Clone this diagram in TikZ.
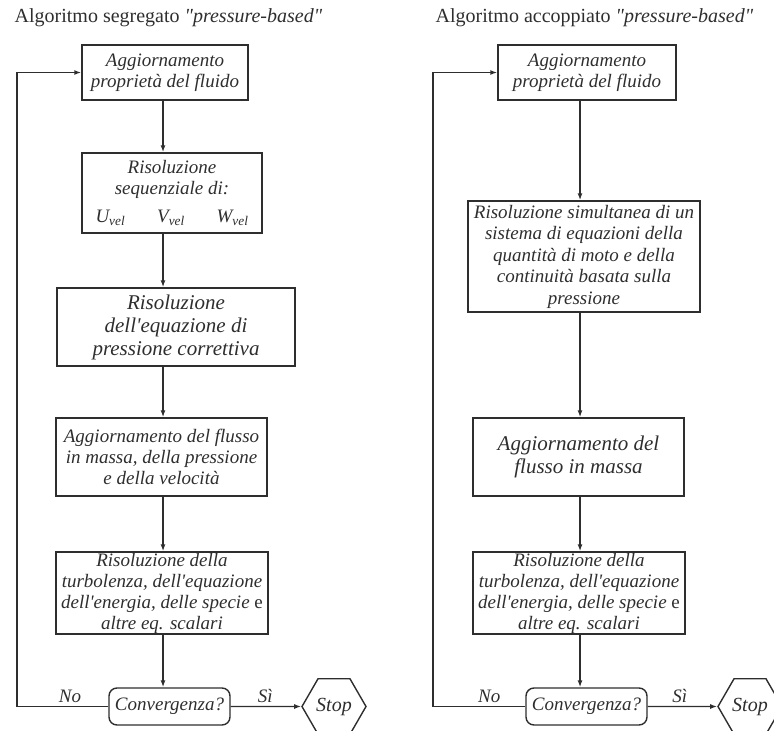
\documentclass[tikz,border=0pt]{standalone}
\usepackage{fontspec}
\setmainfont{Liberation Serif}
\usetikzlibrary{shapes.geometric,arrows.meta}
\definecolor{ink}{HTML}{2E2E2E}

\begin{document}
\begin{tikzpicture}[x=1pt, y=1pt, >={Latex[length=7pt,width=5pt]}, line width=1.4pt, color=ink]
  \tikzstyle{box} = [rectangle, draw, align=center, inner sep=0pt, font=\fontsize{19pt}{21pt}\selectfont\itshape]
  \tikzstyle{bigbox} = [box, font=\fontsize{21pt}{23pt}\selectfont\itshape]
  \tikzstyle{test} = [box, rounded corners=8pt, minimum width=121pt, minimum height=37pt]
  \tikzstyle{halt} = [regular polygon, regular polygon sides=6, draw, minimum size=64pt, inner sep=0pt, font=\fontsize{20pt}{22pt}\selectfont\itshape]
  \tikzstyle{tag} = [font=\fontsize{19pt}{21pt}\selectfont\itshape]
  \tikzstyle{heading} = [anchor=west, inner sep=0pt, font=\fontsize{20pt}{22pt}\selectfont]

  \useasboundingbox (0,0) rectangle (774,-731);

  % segregato
  \node [heading] (ltitle) at (14,-18) {Algoritmo segregato \textit{\textquotedbl pressure-based\textquotedbl}};
  \node [box, minimum width=166pt, minimum height=55pt] (l1) at (165,-72.5) {Aggiornamento\\propriet\`a del fluido};
  \node [box, below of=l1, node distance=120.5pt, xshift=7pt, minimum width=180pt, minimum height=80pt] (l2) {Risoluzione\\sequenziale di:\\[7pt]\makebox[153pt]{U\textsubscript{vel}\hfill V\textsubscript{vel}\hfill W\textsubscript{vel}}};
  \node [bigbox, below of=l2, node distance=134pt, xshift=4pt, minimum width=238pt, minimum height=78pt] (l3) {Risoluzione\\dell\textquotesingle equazione di\\pressione correttiva};
  \node [box, below of=l3, node distance=130pt, xshift=-14.5pt, minimum width=211pt, minimum height=78pt] (l4) {Aggiornamento del flusso\\in massa, della pressione\\e della velocit\`a};
  \node [box, below of=l4, node distance=136pt, xshift=0.5pt, minimum width=212pt, minimum height=82pt] (l5) {Risoluzione della\\turbolenza, dell\textquotesingle equazione\\dell\textquotesingle energia, delle specie \textup{e}\\altre eq. scalari};
  \node [test, below of=l5, node distance=113.5pt, xshift=7.5pt] (lconv) {Convergenza?};
  \node [halt, right of=lconv, node distance=164.5pt] (lstop) {Stop};
  \coordinate (lspine) at (163,0);
  \coordinate (lback) at (17,-706.5);

  \draw[->] (l1.south -| lspine) -- (l2.north -| lspine);
  \draw[->] (l2.south -| lspine) -- (l3.north -| lspine);
  \draw[->] (l3.south -| lspine) -- (l4.north -| lspine);
  \draw[->] (l4.south -| lspine) -- (l5.north -| lspine);
  \draw[->] (l5.south -| lspine) -- (lconv.north -| lspine);
  \draw[->] (lconv) -- node[tag, above, pos=0.49] {S\`i} (lstop);
  \draw[->] (lconv.west) -- node[tag, above, pos=0.42] {No} (lback) |- (l1.west);

  % accoppiato
  \node [heading] (rtitle) at (435,-18) {Algoritmo accoppiato \textit{\textquotedbl pressure-based\textquotedbl}};
  \node [box, minimum width=178pt, minimum height=55pt] (r1) at (587,-72.5) {Aggiornamento\\propriet\`a del fluido};
  \node [box, below of=r1, node distance=184pt, xshift=-3pt, minimum width=232pt, minimum height=111pt, font=\fontsize{19pt}{21.5pt}\selectfont\itshape] (r2) {Risoluzione simultanea di un\\sistema di equazioni della\\quantit\`a di moto e della\\continuit\`a basata sulla\\pressione};
  \node [bigbox, below of=r2, node distance=200.5pt, xshift=-5.5pt, minimum width=211pt, minimum height=78pt] (r3) {Aggiornamento del\\flusso in massa};
  \node [box, below of=r3, node distance=136pt, xshift=0.5pt, minimum width=212pt, minimum height=82pt] (r4) {Risoluzione della\\turbolenza, dell\textquotesingle equazione\\dell\textquotesingle energia, delle specie \textup{e}\\altre eq. scalari};
  \node [test, below of=r4, node distance=113.5pt, xshift=7.5pt] (rconv) {Convergenza?};
  \node [halt, right of=rconv, node distance=163.5pt] (rstop) {Stop};
  \coordinate (rspine) at (580,0);
  \coordinate (rback) at (433,-706.5);

  \draw[->] (r1.south -| rspine) -- (r2.north -| rspine);
  \draw[->] (r2.south -| rspine) -- (r3.north -| rspine);
  \draw[->] (r3.south -| rspine) -- (r4.north -| rspine);
  \draw[->] (r4.south -| rspine) -- (rconv.north -| rspine);
  \draw[->] (rconv) -- node[tag, above, pos=0.46] {S\`i} (rstop);
  \draw[->] (rconv.west) -- node[tag, above, pos=0.39] {No} (rback) |- (r1.west);
\end{tikzpicture}
\end{document}
